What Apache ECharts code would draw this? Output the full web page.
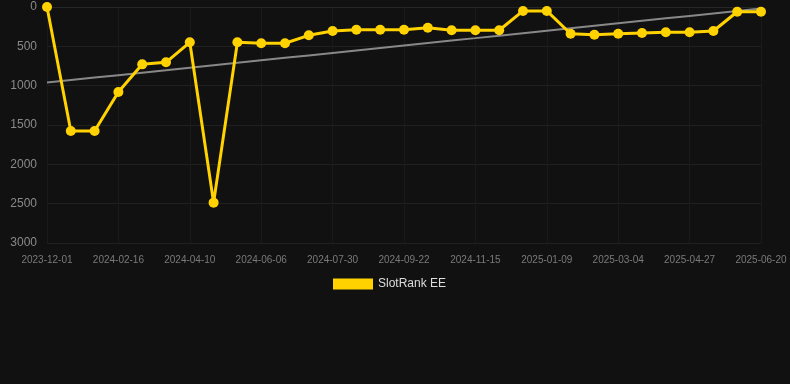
<!DOCTYPE html>
<html>
<head>
<meta charset="utf-8">
<script src="https://cdn.jsdelivr.net/npm/echarts@6/dist/echarts.min.js"></script>
<style>
  html, body { margin: 0; padding: 0; background: #111111; }
  #chart { width: 790px; height: 384px; }
</style>
</head>
<body>
<div id="chart"></div>
<script>
const dates = [
  '2023-12-01', '2023-12-27', '2024-01-22', '2024-02-16', '2024-03-05', '2024-03-23',
  '2024-04-10', '2024-04-29', '2024-05-18', '2024-06-06', '2024-06-24', '2024-07-12',
  '2024-07-30', '2024-08-17', '2024-09-04', '2024-09-22', '2024-10-10', '2024-10-28',
  '2024-11-15', '2024-12-03', '2024-12-21', '2025-01-09', '2025-01-27', '2025-02-14',
  '2025-03-04', '2025-03-22', '2025-04-09', '2025-04-27', '2025-05-15', '2025-06-02',
  '2025-06-20'
];

const rank = [
  0, 1576, 1576, 1080, 729, 703,
  449, 2487, 449, 461, 461, 360,
  305, 289, 289, 289, 263, 296,
  296, 296, 50, 50, 340, 352,
  340, 330, 320, 320, 305, 60,
  60
];

// least squares trend through the rank values
function trend(vals) {
  const n = vals.length;
  let sx = 0, sy = 0, sxy = 0, sxx = 0;
  vals.forEach((v, i) => { sx += i; sy += v; sxy += i * v; sxx += i * i; });
  const b = (n * sxy - sx * sy) / (n * sxx - sx * sx);
  const a = (sy - b * sx) / n;
  return vals.map((v, i) => +(a + b * i).toFixed(1));
}

const chart = echarts.init(document.getElementById('chart'));

chart.setOption({
  backgroundColor: '#111111',
  animation: false,
  grid: { left: 47, right: 29, top: 7, bottom: 141 },
  legend: {
    data: ['SlotRank EE'],
    top: 273,
    left: 328,
    icon: 'rect',
    itemWidth: 40,
    itemHeight: 11,
    itemGap: 10,
    textStyle: { color: '#dddddd', fontSize: 12, fontFamily: 'Arial, Liberation Sans, sans-serif' }
  },
  xAxis: {
    type: 'category',
    data: dates,
    boundaryGap: false,
    axisLine: { show: true, lineStyle: { color: '#262626' } },
    axisTick: { show: false },
    axisLabel: {
      interval: 2,
      color: '#7a7a7a',
      fontSize: 10,
      margin: 12,
      fontFamily: 'Arial, Liberation Sans, sans-serif'
    },
    splitLine: { show: true, interval: 2, lineStyle: { color: '#1a1a1a' } }
  },
  yAxis: {
    type: 'value',
    inverse: true,
    min: 0,
    max: 3000,
    interval: 500,
    axisLine: { show: false },
    axisTick: { show: false },
    axisLabel: {
      color: '#8a8a8a',
      fontSize: 12,
      margin: 10,
      formatter: v => String(v),
      fontFamily: 'Arial, Liberation Sans, sans-serif'
    },
    splitLine: { lineStyle: { color: '#202020' } }
  },
  series: [
    {
      name: 'Trend',
      type: 'line',
      data: trend(rank),
      showSymbol: false,
      silent: true,
      lineStyle: { color: '#888888', width: 2 },
      z: 1
    },
    {
      name: 'SlotRank EE',
      type: 'line',
      data: rank,
      symbol: 'circle',
      symbolSize: 10,
      itemStyle: { color: '#ffd200' },
      lineStyle: { color: '#ffd200', width: 3 },
      z: 2
    }
  ]
});
</script>
</body>
</html>
